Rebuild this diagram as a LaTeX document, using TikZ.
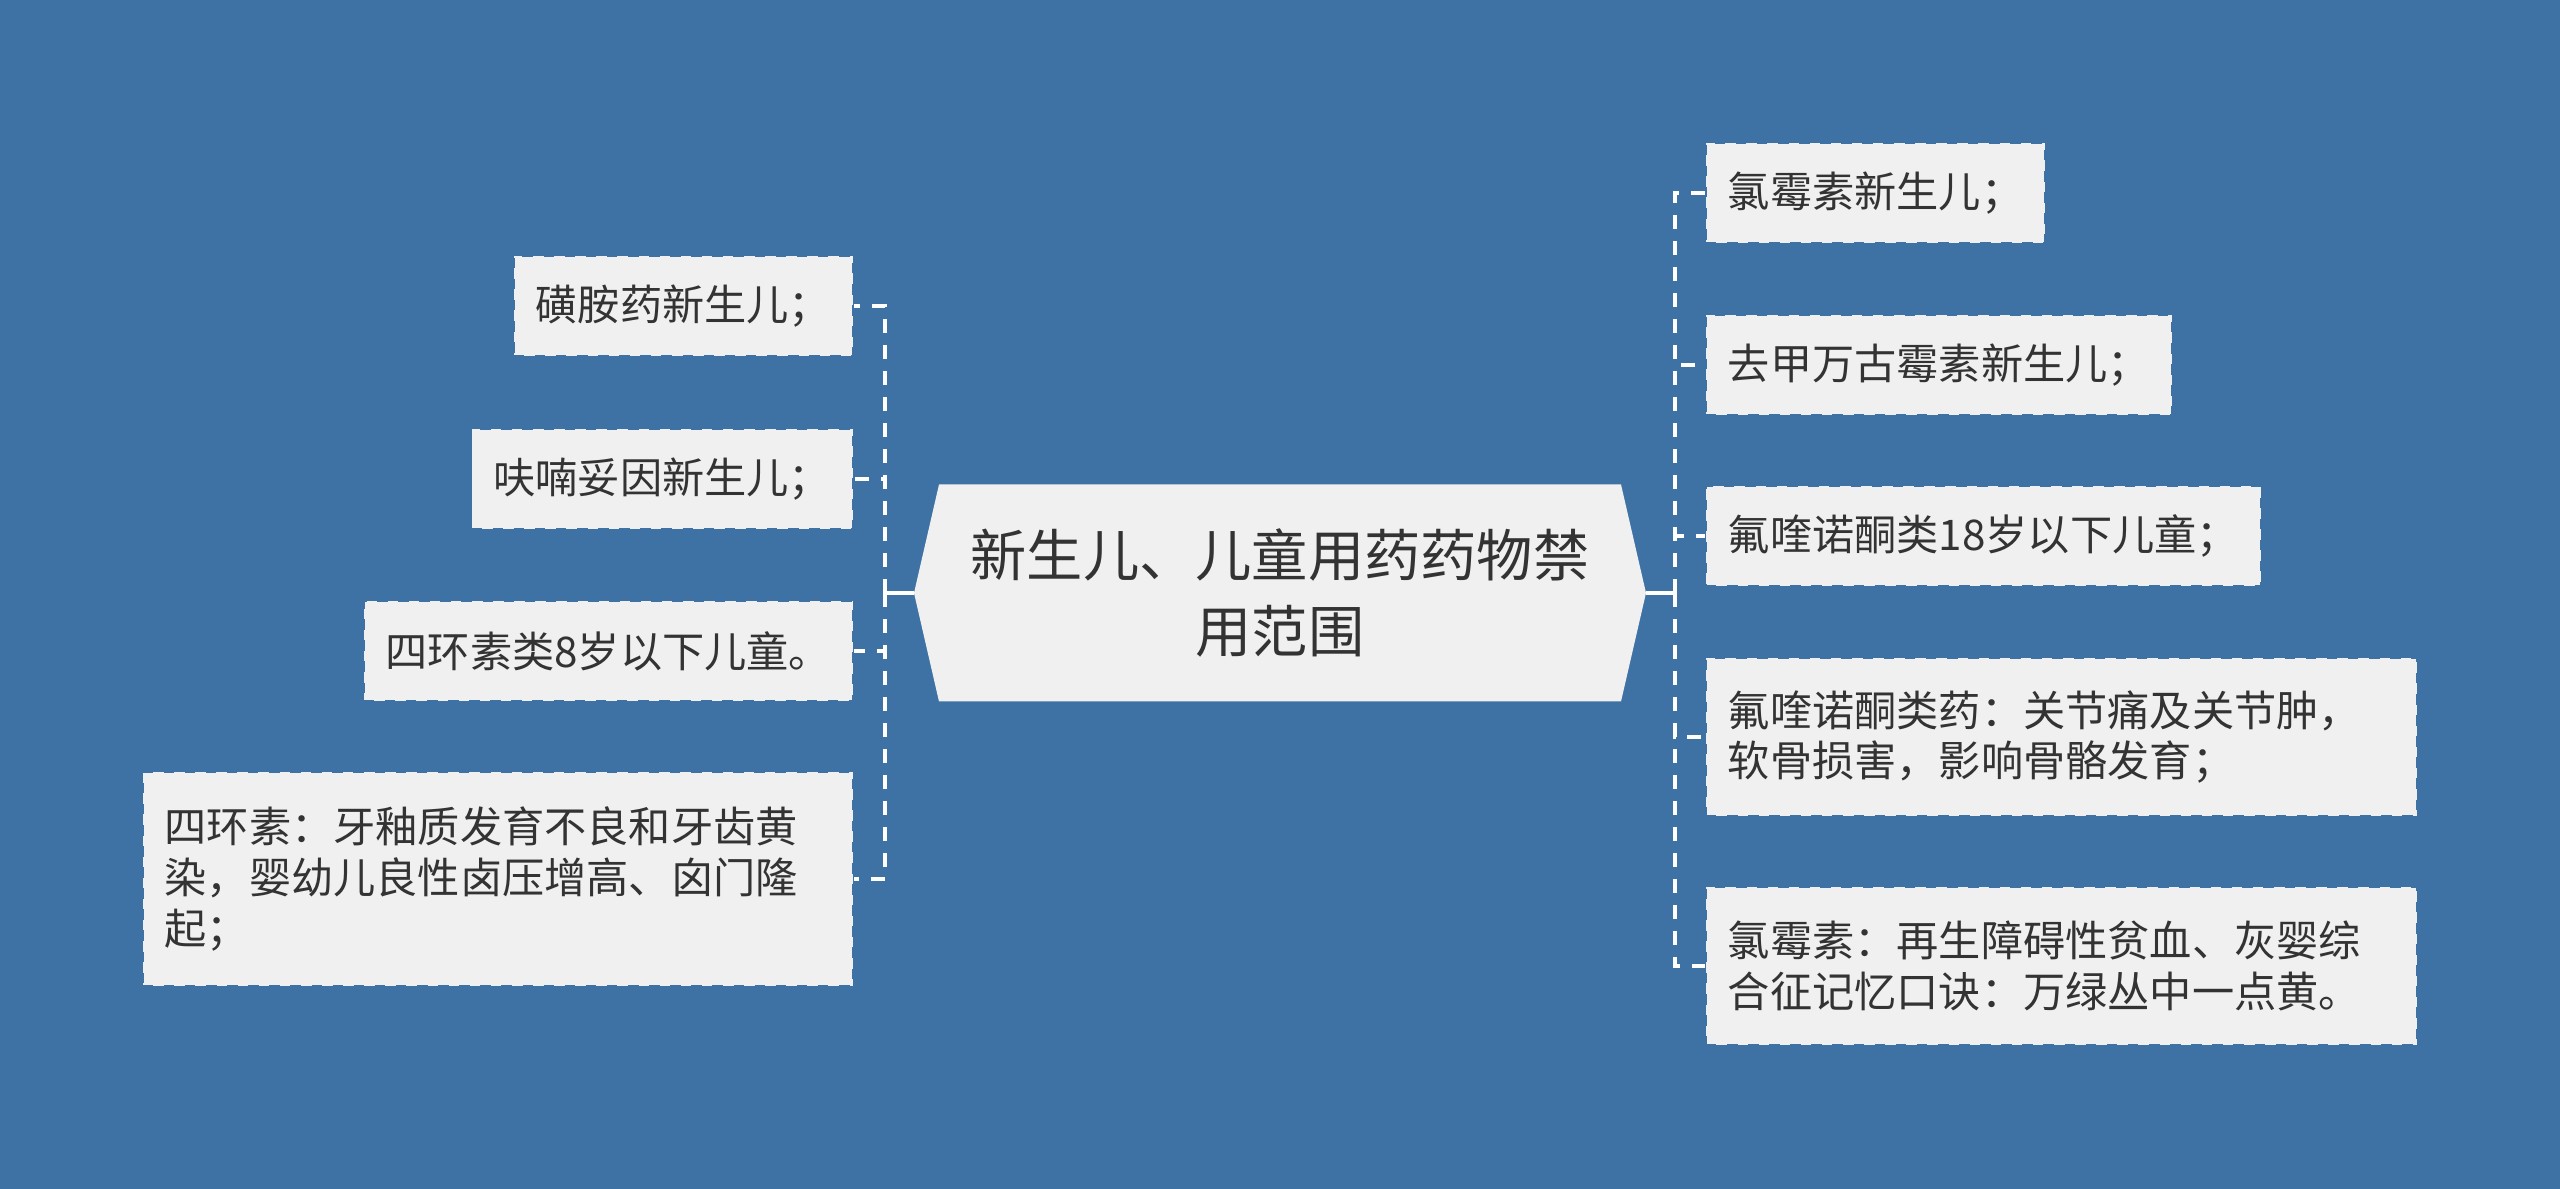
\documentclass[tikz,border=0pt]{standalone}
\usepackage{fontspec}
\setmainfont{Noto Sans CJK SC}
\usetikzlibrary{calc}
\definecolor{bgblue}{HTML}{3E72A4}
\definecolor{leafgray}{HTML}{F0F0F0}
\definecolor{inkgray}{HTML}{333333}
\newcommand\leftedge{854}
\newcommand\rightedge{1705}
\newcommand\busgap{29}
\newcommand\rootpoint{25}
\newcommand\roothalfw{341}
\newcommand\roothalfh{108.5}

\begin{document}
\begin{tikzpicture}[x=0.01cm, y=-0.01cm]
	\tikzstyle{every node}=[font=\fontsize{12pt}{14.4pt}\selectfont, text=inkgray]
	\tikzstyle{leaf}=[rectangle, fill=leafgray, draw=bgblue, dashed, line width=0.5pt, inner xsep=0.22cm, inner ysep=0pt, minimum height=1cm, align=left]
	\tikzstyle{link}=[draw=white, line width=1.3pt, dash pattern=on 0.14cm off 0.12cm]
	\tikzstyle{trunk}=[draw=white, line width=1.3pt]
	
	%background
	\fill[bgblue] (0,0) rectangle (2560,1189);
	
	%root
	\coordinate (rootc) at (1280,593);
	\coordinate (rootL) at ($(rootc)+(-\roothalfw-\rootpoint,0)$);
	\coordinate (rootR) at ($(rootc)+(\roothalfw+\rootpoint,0)$);
	\fill[leafgray] (rootL) -- ($(rootc)+(-\roothalfw,-\roothalfh)$) -- ($(rootc)+(\roothalfw,-\roothalfh)$) -- (rootR)
		-- ($(rootc)+(\roothalfw,\roothalfh)$) -- ($(rootc)+(-\roothalfw,\roothalfh)$) -- cycle;
	\node[inner sep=0pt, align=center, font=\fontsize{16pt}{21.6pt}\selectfont] (root) at (rootc) {新生儿、儿童用药药物禁\\用范围};
	
	%left leaves
	\node[leaf, anchor=east] (l1) at (\leftedge,306) {磺胺药新生儿；};
	\node[leaf, anchor=east] (l2) at (\leftedge,479) {呋喃妥因新生儿；};
	\node[leaf, anchor=east] (l3) at (\leftedge,651) {四环素类8岁以下儿童。};
	\node[leaf, anchor=east, text width=6.66cm, minimum height=2.14cm] (l4) at (\leftedge,879) {四环素：牙釉质发育不良和牙齿黄\\染，婴幼儿良性卤压增高、囟门隆\\起；};
	
	%right leaves
	\node[leaf, anchor=west] (r1) at (\rightedge,193) {氯霉素新生儿；};
	\node[leaf, anchor=west] (r2) at (\rightedge,365) {去甲万古霉素新生儿；};
	\node[leaf, anchor=west] (r3) at (\rightedge,536) {氟喹诺酮类18岁以下儿童；};
	\node[leaf, anchor=west, text width=6.67cm, minimum height=1.58cm] (r4) at (\rightedge,737) {氟喹诺酮类药：关节痛及关节肿，\\软骨损害，影响骨骼发育；};
	\node[leaf, anchor=west, text width=6.67cm, minimum height=1.58cm] (r5) at (\rightedge,966) {氯霉素：再生障碍性贫血、灰婴综\\合征记忆口诀：万绿丛中一点黄。};
	
	%connectors
	\coordinate (lbus) at ($(rootL)+(-\busgap,0)$);
	\coordinate (rbus) at ($(rootR)+(\busgap,0)$);
	\draw[trunk] (rootL) -- (lbus);
	\draw[trunk] (rootR) -- (rbus);
	\foreach \n in {l1,l2,l3,l4} \draw[link] (lbus) |- (\n.east);
	\foreach \n in {r1,r2,r3,r4,r5} \draw[link] (rbus) |- (\n.west);
\end{tikzpicture}
\end{document}
